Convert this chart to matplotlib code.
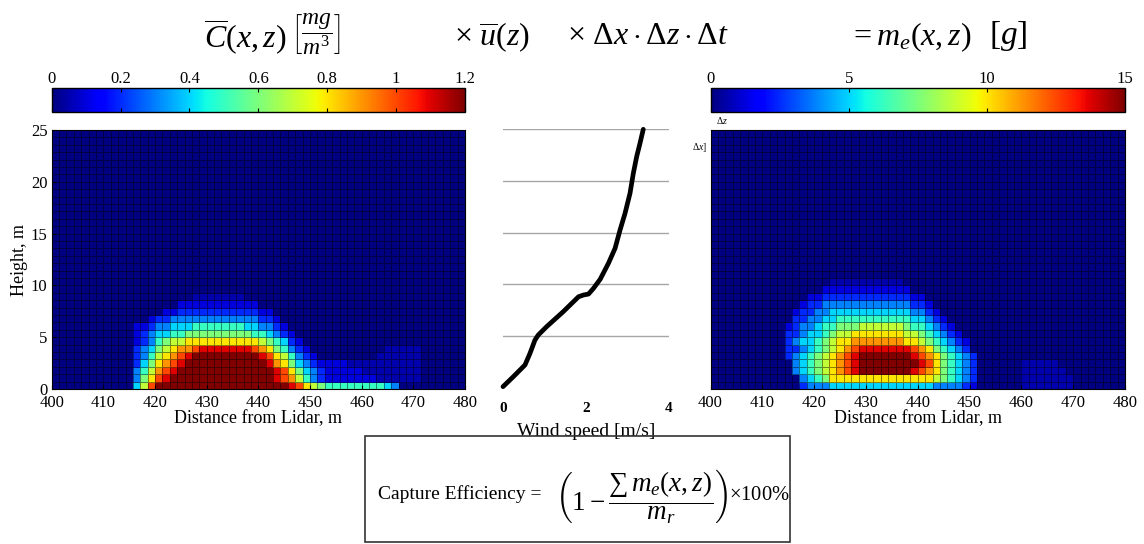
import numpy as np
import matplotlib.pyplot as plt
from matplotlib.patches import Rectangle

plt.rcParams['font.family'] = ['Liberation Serif', 'DejaVu Serif']
plt.rcParams['mathtext.fontset'] = 'custom'
plt.rcParams['mathtext.rm'] = 'Liberation Serif'
plt.rcParams['mathtext.it'] = 'Liberation Serif:italic'
plt.rcParams['mathtext.bf'] = 'Liberation Serif:bold'

# grid of the lidar scan: 56 cells in distance, 35 cells in height
n_cols, n_rows = 56, 35
x_edges = np.linspace(400, 480, n_cols + 1)
z_edges = np.linspace(0, 25, n_rows + 1)

# cell levels, one string per row from the ground up: (first column, levels)
# '0'..'c' -> 0..12 steps, '.' -> faint, ' ' -> skip
conc_rows = [
    (11, "47a" + "c" * 18 + "ba876" + "5" * 8 + "43"),
    (11, "368ab" + "c" * 14 + "ba9753" + "2" + "1" * 7 + "." * 6),
    (11, "3579ab" + "c" * 13 + "ba86432" + "1" * 5 + "." * 8),
    (11, "24689ab" + "c" * 11 + "b98643" + "2" + "1111" + "." * 10),
    (11, "235789ab" + "c" * 9 + "ba87532" + "1" + "0" * 8 + "." * 6),
    (11, "23467899a" + "b" * 7 + "a98653" + "21" + "0" * 10 + "." * 5),
    (11, "123567788" + "8" * 8 + "7654" + "21"),
    (11, "123445566" + "6" * 7 + "55432" + "1"),
    (11, "11233444" + "5" * 7 + "44332" + "1"),
    (13, "12233" + "3" * 9 + "3221"),
    (15, "112" + "2" * 10 + "11"),
    (17, "1" * 11),
    (19, "." * 7),
]

mass_rows = [
    (12, "2333" + "4" * 14 + "3333" + "21" + " " * 6 + "." * 7),
    (12, "3456" + "8" * 14 + "765432" + " " * 6 + "." * 7),
    (11, "3456789ab" + "c" * 7 + "ba98" + "6543" + "2" + " " * 6 + "." * 6),
    (11, "3456789ab" + "c" * 8 + "ba8" + "6543" + "2" + " " * 6 + "." * 5),
    (10, "23456789ab" + "c" * 7 + "ba98" + "65432"),
    (10, "223456789a" + "b" * 7 + "a9865432"),
    (10, "2344567889" + "9" * 6 + "887654321"),
    (10, "2234456778" + "8" * 6 + "77654321"),
    (10, "1233455666" + "7" * 6 + "6554321"),
    (11, "22334455" + "5" * 7 + "544321"),
    (11, "122334" + "4" * 10 + "3321"),
    (12, "1223" + "3" * 11 + "221"),
    (13, "112" + "2" * 11 + "11"),
    (15, "1" * 12),
    (16, "." * 10),
]

# wind profile
wind_speed = [0.0, 0.25, 0.53, 0.65, 0.77, 0.85, 1.05, 1.45, 1.82, 1.94, 2.06, 2.18,
              2.34, 2.54, 2.70, 2.82, 2.94, 3.06, 3.14, 3.22, 3.30, 3.38]
wind_height = [0.10, 1.07, 2.20, 3.32, 4.61, 5.10, 5.90, 7.35, 8.80, 8.97, 9.06, 9.61,
               10.48, 12.03, 13.48, 15.25, 16.86, 18.80, 20.73, 22.34, 23.63, 25.0]

conc_ticks = [0, 0.2, 0.4, 0.6, 0.8, 1, 1.2]
mass_ticks = [0, 5, 10, 15]
dist_ticks = [400, 410, 420, 430, 440, 450, 460, 470, 480]
height_ticks = [0, 5, 10, 15, 20, 25]

levels = "0123456789abc"


def build_grid(rows, step, faint):
    grid = np.zeros((n_rows, n_cols))
    for r, (start, cells) in enumerate(rows):
        for k, ch in enumerate(cells):
            if ch == ' ':
                continue
            grid[r, start + k] = faint if ch == '.' else levels.index(ch) * step
    return grid


conc = build_grid(conc_rows, 0.1, 0.05)
mass = build_grid(mass_rows, 1.25, 0.6)

W, H = 1144, 544
fig = plt.figure(figsize=(W / 100, H / 100), dpi=100)


def box(x0, y0, x1, y1):
    # pixel box -> figure fraction
    return [x0 / W, 1 - y1 / H, (x1 - x0) / W, (y1 - y0) / H]


def heatmap(rect, data, vmax):
    ax = fig.add_axes(rect)
    mesh = ax.pcolormesh(x_edges, z_edges, data, cmap='jet', vmin=0, vmax=vmax,
                         edgecolors=(0, 0, 0, 0.45), linewidth=0.5)
    ax.set_xlim(400, 480)
    ax.set_ylim(0, 25)
    ax.set_xticks(dist_ticks)
    ax.tick_params(direction='in', length=3, labelsize=12, pad=3)
    ax.tick_params(axis='x', pad=4)
    ax.set_xlabel("Distance from Lidar, m", fontsize=13, labelpad=0)
    return ax, mesh


def colorbar(rect, mesh, ticks):
    cax = fig.add_axes(rect)
    cb = fig.colorbar(mesh, cax=cax, orientation='horizontal', ticks=ticks)
    cb.outline.set_linewidth(1)
    cax.set_xticklabels([str(t) for t in ticks])
    cax.tick_params(direction='in', length=3, top=True, bottom=True,
                    labeltop=True, labelbottom=False, labelsize=12, pad=1)
    return cax


ax1, m1 = heatmap(box(51.7, 130, 465, 389), conc, 1.2)
ax1.set_yticks(height_ticks)
ax1.set_ylabel("Height, m", fontsize=13, labelpad=2)
colorbar(box(51.7, 88, 465, 112), m1, conc_ticks)

ax3, m3 = heatmap(box(710.5, 130, 1125, 389), mass, 15)
ax3.set_yticks([])
colorbar(box(710.5, 88, 1125, 112), m3, mass_ticks)

# wind speed profile
ax2 = fig.add_axes(box(503, 129.3, 669, 387.7))
ax2.plot(wind_speed, wind_height, color='black', lw=3.4, solid_capstyle='round',
         solid_joinstyle='round', clip_on=False)
ax2.set_xlim(0, 4)
ax2.set_ylim(0, 25)
ax2.set_yticks([5, 10, 15, 20, 25])
ax2.yaxis.grid(True, color='#a6a6a6', lw=1)
ax2.set_axisbelow(True)
ax2.set_xticks([0, 2, 4])
ax2.tick_params(axis='y', length=0, labelleft=False)
ax2.tick_params(axis='x', length=0, labelsize=11, pad=10)
for t in ax2.get_xticklabels():
    t.set_fontweight('bold')
for s in ax2.spines.values():
    s.set_visible(False)
ax2.set_xlabel("Wind speed [m/s]", fontsize=14, labelpad=6)

# equation header
fs = 23
fig.text(245 / W, 1 - 37 / H, r"$\overline{C}(x,z)$", fontsize=fs, ha='center', va='center')
fig.text(316 / W, 1 - 34 / H, r"$\left[\dfrac{mg}{m^3}\right]$", fontsize=17,
         ha='center', va='center')
fig.text(492 / W, 1 - 37 / H, r"$\times\ \overline{u}(z)$", fontsize=fs, ha='center', va='center')
fig.text(648 / W, 1 - 37 / H, r"$\times\ \Delta x\cdot\Delta z\cdot\Delta t$",
         fontsize=fs, ha='center', va='center')
fig.text(910 / W, 1 - 37 / H, r"$=m_e(x,z)$", fontsize=fs, ha='center', va='center')
fig.text(1008 / W, 1 - 36 / H, r"$[g]$", fontsize=24, ha='center', va='center')

# small labels next to the right map
fig.text(722 / W, 1 - 120 / H, r"$\Delta z$", fontsize=7, ha='center', va='center')
fig.text(700 / W, 1 - 148 / H, r"$\Delta x]$", fontsize=7, ha='center', va='center')

# capture efficiency box
fig.add_artist(Rectangle((365 / W, 1 - 542 / H), 425 / W, 106 / H, transform=fig.transFigure,
                         fill=False, edgecolor='#333333', lw=1.2))
fig.text(378 / W, 1 - 494 / H, "Capture Efficiency =", fontsize=14, ha='left', va='center')
fig.text(555 / W, 1 - 496 / H,
         r"$\left(1-\dfrac{\sum\, m_e(x,z)}{m_r}\right)$",
         fontsize=19.5, ha='left', va='center')
fig.text(729 / W, 1 - 496 / H, r"$\times100\%$", fontsize=14.8, ha='left', va='center')

fig.savefig("out.png", dpi=100)
